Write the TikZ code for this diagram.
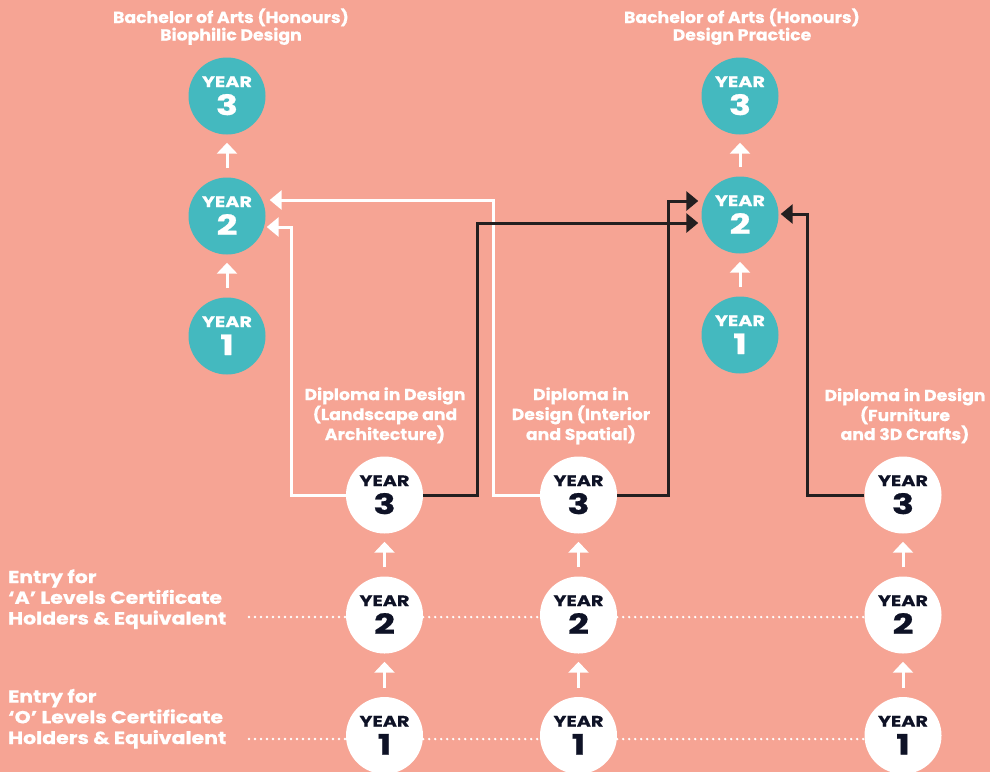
\documentclass[tikz,border=0pt]{standalone}
\usepackage{fontspec}
\setmainfont{Poppins}[UprightFont=* Bold, BoldFont=* Bold]
\usetikzlibrary{arrows.meta}
\definecolor{bg}{HTML}{F6A494}
\definecolor{myteal}{HTML}{44B9BF}
\definecolor{ink}{HTML}{231F20}
\definecolor{navy}{HTML}{0E1226}
\newcommand{\yrcirc}[6]{% style, name, x, y, number, text colour
  \node[#1] (#2) at (#3,#4) {};
  \node[yrword, text=#6, anchor=base] (#2w) at ([yshift=9pt]#2.center) {YEAR};
  \node[yrnum, text=#6, anchor=base] (#2n) at ([yshift=-19pt]#2.center) {#5};
}
\begin{document}
\begin{tikzpicture}[x=1pt,y=-1pt,
  yr/.style={circle, minimum size=77pt, inner sep=0pt},
  tealyr/.style={yr, fill=myteal},
  whiteyr/.style={yr, fill=white},
  yrword/.style={inner sep=0pt, font=\fontsize{15}{15}\selectfont\addfontfeature{FakeStretch=1.28,FakeBold=0.6}},
  yrnum/.style={inner sep=0pt, font=\fontsize{28}{28}\selectfont\addfontfeature{FakeStretch=1.3,FakeBold=0.8}},
  head/.style={inner sep=0pt, text=white, align=center, anchor=base, font=\fontsize{16}{17.5}\selectfont\addfontfeature{FakeStretch=1.08,FakeBold=0.4}},
  entry/.style={inner sep=0pt, text=white, align=left, anchor=base west, font=\fontsize{17.5}{20.7}\selectfont\addfontfeature{FakeStretch=1.17,FakeBold=0.5}},
  uparrow/.style={draw=white, line width=3pt, -{Triangle[length=11pt,width=20pt]}, shorten >=8pt, shorten <=9pt},
  wline/.style={draw=white, line width=3pt, -{Triangle[length=12pt,width=19pt]}},
  bline/.style={draw=ink, line width=3pt, -{Triangle[length=12pt,width=19pt]}},
  dots/.style={draw=white, line width=2.6pt, line cap=round, dash pattern=on 0pt off 6pt},
]
\fill[bg] (0,0) rectangle (990,772);
\useasboundingbox (0,0) rectangle (990,772);

% degree circles
\yrcirc{tealyr}{bl3}{227}{96}{3}{white}
\yrcirc{tealyr}{bl2}{227}{216}{2}{white}
\yrcirc{tealyr}{bl1}{227}{336}{1}{white}
\yrcirc{tealyr}{br3}{740}{96}{3}{white}
\yrcirc{tealyr}{br2}{740}{215}{2}{white}
\yrcirc{tealyr}{br1}{740}{335}{1}{white}

% diploma circles
\yrcirc{whiteyr}{da3}{384.5}{495}{3}{navy}
\yrcirc{whiteyr}{da2}{384.5}{615}{2}{navy}
\yrcirc{whiteyr}{da1}{384.5}{735.5}{1}{navy}
\yrcirc{whiteyr}{db3}{578.5}{495}{3}{navy}
\yrcirc{whiteyr}{db2}{578.5}{615}{2}{navy}
\yrcirc{whiteyr}{db1}{578.5}{735.5}{1}{navy}
\yrcirc{whiteyr}{dc3}{903}{495}{3}{navy}
\yrcirc{whiteyr}{dc2}{903}{615}{2}{navy}
\yrcirc{whiteyr}{dc1}{903}{735.5}{1}{navy}

% up arrows
\foreach \a/\b in {bl1/bl2, bl2/bl3, br1/br2, br2/br3, da1/da2, da2/da3, db1/db2, db2/db3, dc1/dc2, dc2/dc3}
  \draw[uparrow] (\a.north) -- (\b.south);

% headings (anchored at the baseline of their last line)
\node[head] (hl) at (231,40.5) {Bachelor of Arts (Honours)\\Biophilic Design};
\node[head] (hr) at (742,40.5) {Bachelor of Arts (Honours)\\Design Practice};
\node[head] (ha) at (385,440) {Diploma in Design\\(Landscape and\\Architecture)};
\node[head] (hb) at (581,440) {Diploma in\\Design (Interior\\and Spatial)};
\node[head] (hc) at (905,440) {Diploma in Design\\(Furniture\\and 3D Crafts)};

% entry labels
\node[entry] (ea) at (8,624.5) {Entry for\\‘A’ Levels Certificate\\Holders \& Equivalent};
\node[entry] (eo) at (8,744) {Entry for\\‘O’ Levels Certificate\\Holders \& Equivalent};

% dotted entry lines
\coordinate (sa) at (249,617);
\coordinate (so) at (249,739);
\draw[dots] (sa) -- ([yshift=-2pt]da2.west);
\draw[dots] ([yshift=-2pt]da2.east) -- ([yshift=-2pt]db2.west);
\draw[dots] ([yshift=-2pt]db2.east) -- ([yshift=-2pt]dc2.west);
\draw[dots] (so) -- ([yshift=-3.5pt]da1.west);
\draw[dots] ([yshift=-3.5pt]da1.east) -- ([yshift=-3.5pt]db1.west);
\draw[dots] ([yshift=-3.5pt]db1.east) -- ([yshift=-3.5pt]dc1.west);

% connectors
\draw[wline] (da3.west) -- ++(-54,0) |- ([yshift=-11pt,xshift=1pt]bl2.east);
\draw[wline] (db3.west) -- ++(-46,0) |- ([yshift=16pt,xshift=4pt]bl2.east);
\draw[bline] (da3.east) -- ++(54,0) |- ([yshift=-8pt,xshift=-3pt]br2.west);
\draw[bline] (db3.east) -- ++(51,0) |- ([yshift=14pt,xshift=-3pt]br2.west);
\draw[bline] (dc3.west) -- ++(-57,0) |- ([yshift=1pt,xshift=2pt]br2.east);
\end{tikzpicture}
\end{document}
